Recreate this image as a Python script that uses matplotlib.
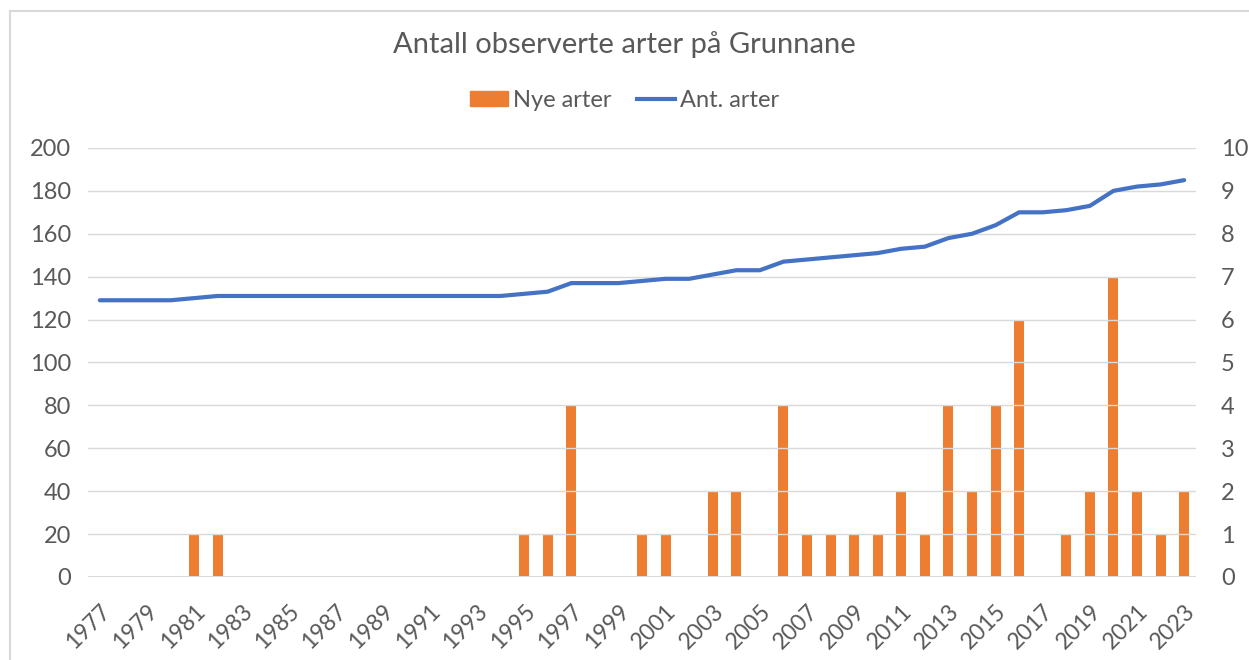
import numpy as np
import matplotlib.pyplot as plt
from matplotlib.lines import Line2D

plt.rcParams['font.family'] = ['Lato', 'DejaVu Sans']

# data
years = list(range(1977, 2024))
nye_arter = [0, 0, 0, 0, 1, 1, 0, 0, 0, 0, 0, 0, 0, 0, 0, 0, 0, 0,
             1, 1, 4, 0, 0, 1, 1, 0, 2, 2, 0, 4, 1, 1, 1, 1, 2, 1,
             4, 2, 4, 6, 0, 1, 2, 7, 2, 1, 2]
ant_arter = [129, 129, 129, 129, 130, 131, 131, 131, 131, 131, 131, 131,
             131, 131, 131, 131, 131, 131, 132, 133, 137, 137, 137, 138,
             139, 139, 141, 143, 143, 147, 148, 149, 150, 151, 153, 154,
             158, 160, 164, 170, 170, 171, 173, 180, 182, 183, 185]

orange = '#ED7D31'
blue = '#4472C4'
txt = '#595959'
grid = '#D9D9D9'

fig = plt.figure(figsize=(12.49, 6.6), dpi=100)
ax = fig.add_axes([0.0705, 0.1258, 0.887, 0.65])
ax2 = ax.twinx()

x = np.arange(len(years))

# bars on the secondary axis, line on the primary one
ax2.bar(x, nye_arter, width=0.42, color=orange, zorder=2)
ax.plot(x, ant_arter, color=blue, lw=3, solid_capstyle='round', zorder=3)
ax.set_zorder(ax2.get_zorder() + 1)
ax.patch.set_visible(False)

ax.set_ylim(0, 200)
ax2.set_ylim(0, 10)
ax.set_yticks(range(0, 201, 20))
ax2.set_yticks(range(0, 11))
ax.set_xlim(-0.5, len(years) - 0.5)

for a in (ax, ax2):
    for s in a.spines.values():
        s.set_visible(False)
    a.tick_params(axis='y', length=0, labelsize=17, labelcolor=txt, pad=12)
ax2.tick_params(axis='y', pad=18)

ax.yaxis.grid(True, color=grid, lw=1)
ax.set_axisbelow(True)
ax.axhline(0, color=grid, lw=1.5, zorder=1)

ax.set_xticks(x[::2])
ax.set_xticklabels([str(y) for y in years[::2]], rotation=45, ha='right',
                   rotation_mode='anchor', fontsize=16.5, color=txt)
ax.tick_params(axis='x', length=0, pad=17)

fig.text(0.5, 0.932, 'Antall observerte arter på Grunnane', ha='center',
         va='center', fontsize=21, color=txt)

handles = [plt.Rectangle((0, 0), 1, 1, color=orange),
           Line2D([0], [0], color=blue, lw=3)]
fig.legend(handles, ['Nye arter', 'Ant. arter'], loc='center',
           bbox_to_anchor=(0.5, 0.848), ncol=2, frameon=False, fontsize=17,
           labelcolor=txt, handlelength=1.6, handleheight=0.6,
           handletextpad=0.2, columnspacing=1.1)

# thin chart border (only left and top are visible in the crop)
fig.add_artist(Line2D([0.008, 0.008], [0, 0.983], color=grid, lw=1.5))
fig.add_artist(Line2D([0.008, 1], [0.983, 0.983], color=grid, lw=1.5))

fig.savefig('out.png', dpi=100, facecolor='white')
